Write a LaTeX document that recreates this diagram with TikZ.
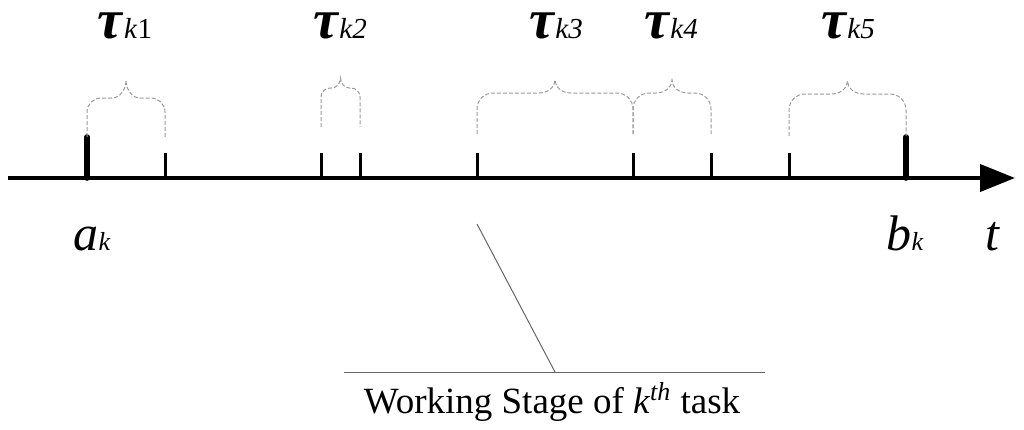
\documentclass[tikz,border=0pt]{standalone}
\usepackage{fontspec}
\setmainfont{Liberation Serif}
\usetikzlibrary{arrows.meta,positioning}
\newcommand{\subfont}{\fontsize{14.5}{17}\selectfont}
\newcommand{\spanbrace}[6]{% left, right, foot, shoulder, peak, radius
  \draw[spanbrace] (#1,#3) -- (#1,{#4+#6})
    .. controls (#1,{#4+0.45*#6}) and ({#1+0.45*#6},#4) .. ({#1+#6},#4)
    -- ({(#1+#2)/2-#6},#4)
    .. controls ({(#1+#2)/2-0.4*#6},#4) and ({(#1+#2)/2},{(#4+#5)/2}) .. ({(#1+#2)/2},#5)
    .. controls ({(#1+#2)/2},{(#4+#5)/2}) and ({(#1+#2)/2+0.4*#6},#4) .. ({(#1+#2)/2+#6},#4)
    -- ({#2-#6},#4)
    .. controls ({#2-0.45*#6},#4) and (#2,{#4+0.45*#6}) .. (#2,{#4+#6})
    -- (#2,#3);}

\begin{document}
\begin{tikzpicture}[
    x=0.5pt, y=-0.5pt,
    axis/.style={line width=2pt, -{Triangle[length=17.5pt,width=13.5pt]}},
    tickmark/.style={line width=1.5pt},
    endmark/.style={line width=2.8pt, line cap=round},
    spanbrace/.style={line width=0.5pt, draw=black!40, dash pattern=on 2pt off 1pt},
    taulabel/.style={anchor=base, inner sep=2pt, font=\fontsize{28}{32}\selectfont},
    endlabel/.style={anchor=base, inner sep=2pt, font=\fontsize{25}{30}\selectfont\itshape},
    leader/.style={line width=0.5pt, draw=black!60},
  ]
  \useasboundingbox (0,0) rectangle (1024,429);

  %% --- Time axis ---
  \coordinate (origin) at (8,178);
  \coordinate (tip)    at (1015,178);
  \draw[axis] (origin) -- (tip);

  \foreach \x in {165,321,360,477,633,711,789}
    \draw[tickmark] (\x,178) -- (\x,153);
  \draw[endmark] (87,178) -- (87,137);
  \draw[endmark] (906,178) -- (906,137);

  %% --- Stage braces ---
  \spanbrace{87}{165}{137}{98}{80}{14}
  \spanbrace{321}{360}{127}{88}{78}{9}
  \spanbrace{477}{633}{134}{93}{80}{16}
  \spanbrace{633}{711}{134}{93}{80}{16}
  \spanbrace{789}{906}{136}{94}{81}{16}

  \node[taulabel] (tau1) at (125,38) {\textbf{\textit{τ}}{\subfont\textit{k}1}};
  \node[taulabel] (tau2) at (340,38) {\textbf{\textit{τ}}{\subfont\textit{k2}}};
  \node[taulabel] (tau3) at (556,38) {\textbf{\textit{τ}}{\subfont\textit{k3}}};
  \node[taulabel] (tau4) at (671,38) {\textbf{\textit{τ}}{\subfont\textit{k4}}};
  \node[taulabel] (tau5) at (848,38) {\textbf{\textit{τ}}{\subfont\textit{k5}}};

  %% --- End points ---
  \node[endlabel] (ak)   at (92,250)  {a{\fontsize{13}{15}\selectfont k}};
  \node[endlabel] (bk)   at (905,250) {b{\fontsize{13}{15}\selectfont k}};
  \node[endlabel] (tlab) at (992,250) {t};

  %% --- Working stage callout ---
  \node[anchor=base, inner sep=2pt, font=\fontsize{18.5}{22}\selectfont] (stage) at (552,413)
    {Working Stage of \textit{k}\textsuperscript{\textit{th}} task};
  \coordinate (ruleL)   at (344,372);
  \coordinate (ruleR)   at (765,372);
  \coordinate (ruleM)   at (555,372);
  \coordinate (leadtop) at (477,224);
  \draw[leader] (ruleL) -- (ruleR);
  \draw[leader] (leadtop) -- (ruleM);
\end{tikzpicture}
\end{document}
